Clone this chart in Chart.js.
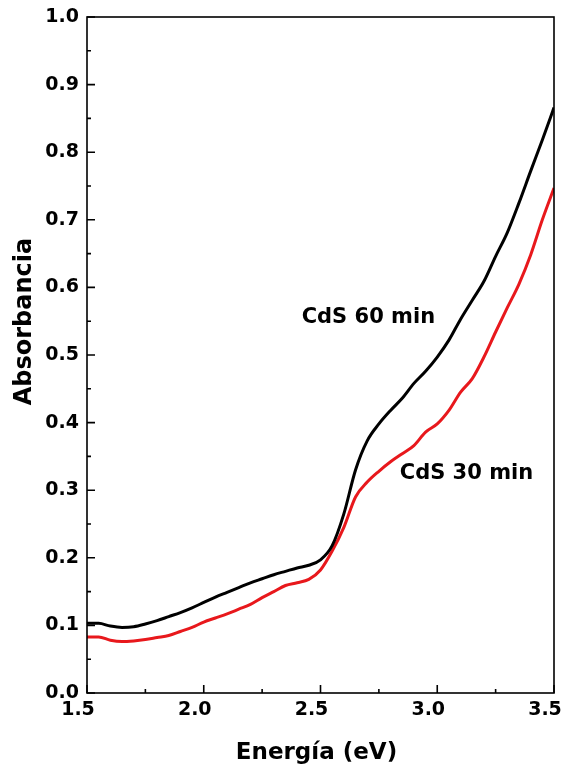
<!DOCTYPE html>
<html>
<head>
<meta charset="utf-8">
<script src="https://cdn.jsdelivr.net/npm/chart.js@4.4.1/dist/chart.umd.min.js"></script>
<style>
  html, body { margin: 0; padding: 0; background: #fff; }
</style>
</head>
<body>
<canvas id="chart" width="565" height="772"></canvas>
<script>
// energia (eV) y absorbancia
const energy = [1.50, 1.55, 1.60, 1.65, 1.70, 1.75, 1.80, 1.85, 1.90, 1.95,
                2.00, 2.05, 2.10, 2.15, 2.20, 2.25, 2.30, 2.35, 2.40, 2.45,
                2.50, 2.55, 2.60, 2.65, 2.70, 2.75, 2.80, 2.85, 2.90, 2.95,
                3.00, 3.05, 3.10, 3.15, 3.20, 3.25, 3.30, 3.35, 3.40, 3.45, 3.50];
const abs60 = [0.103, 0.103, 0.099, 0.097, 0.098, 0.102, 0.107, 0.113, 0.119, 0.126,
               0.134, 0.142, 0.149, 0.156, 0.163, 0.169, 0.175, 0.180, 0.185, 0.189,
               0.197, 0.218, 0.265, 0.330, 0.373, 0.398, 0.418, 0.436, 0.458, 0.476,
               0.497, 0.522, 0.553, 0.581, 0.609, 0.646, 0.681, 0.725, 0.772, 0.818, 0.866];
const abs30 = [0.083, 0.083, 0.078, 0.076, 0.077, 0.079, 0.082, 0.085, 0.091, 0.097,
               0.105, 0.111, 0.117, 0.124, 0.131, 0.141, 0.150, 0.159, 0.163, 0.168,
               0.182, 0.210, 0.245, 0.290, 0.312, 0.328, 0.342, 0.354, 0.366, 0.386,
               0.398, 0.418, 0.445, 0.465, 0.497, 0.534, 0.570, 0.605, 0.648, 0.700, 0.747];

const xTicks = [1.5, 2.0, 2.5, 3.0, 3.5];
const yTicks = [0.0, 0.1, 0.2, 0.3, 0.4, 0.5, 0.6, 0.7, 0.8, 0.9, 1.0];

const curveNames = ['CdS 60 min', 'CdS 30 min'];
const curveNameX = [2.705, 3.125];
const curveNameY = [0.555, 0.324];

Chart.defaults.font.family = "'DejaVu Sans', sans-serif";
Chart.defaults.font.weight = 'bold';
Chart.defaults.color = '#000';

// marco, marcas hacia adentro y etiquetas de las curvas
const framePlugin = {
  id: 'frame',
  afterDraw(chart) {
    const ctx = chart.ctx;
    const a = chart.chartArea;
    const xs = chart.scales.x, ys = chart.scales.y;
    ctx.save();
    ctx.strokeStyle = '#000';
    ctx.lineWidth = 1.6;
    ctx.strokeRect(a.left, a.top, a.right - a.left, a.bottom - a.top);

    ctx.beginPath();
    for (let i = 0; i < xTicks.length; i++) {
      const px = xs.getPixelForValue(xTicks[i]);
      ctx.moveTo(px, a.bottom); ctx.lineTo(px, a.bottom - 8);
      if (i < xTicks.length - 1) {
        const mx = xs.getPixelForValue((xTicks[i] + xTicks[i + 1]) / 2);
        ctx.moveTo(mx, a.bottom); ctx.lineTo(mx, a.bottom - 4);
      }
    }
    for (let i = 0; i < yTicks.length; i++) {
      const py = ys.getPixelForValue(yTicks[i]);
      ctx.moveTo(a.left, py); ctx.lineTo(a.left + 8, py);
      if (i < yTicks.length - 1) {
        const my = ys.getPixelForValue((yTicks[i] + yTicks[i + 1]) / 2);
        ctx.moveTo(a.left, my); ctx.lineTo(a.left + 4, my);
      }
    }
    ctx.stroke();

    ctx.fillStyle = '#000';
    ctx.font = "bold 21px 'DejaVu Sans', sans-serif";
    ctx.textAlign = 'center';
    ctx.textBaseline = 'middle';
    for (let i = 0; i < curveNames.length; i++) {
      ctx.fillText(curveNames[i], xs.getPixelForValue(curveNameX[i]), ys.getPixelForValue(curveNameY[i]));
    }
    ctx.restore();
  }
};

new Chart(document.getElementById('chart'), {
  type: 'line',
  data: {
    datasets: [
      {
        label: 'CdS 60 min',
        data: energy.map((e, i) => ({ x: e, y: abs60[i] })),
        borderColor: '#000',
        borderWidth: 3,
        pointRadius: 0,
        cubicInterpolationMode: 'monotone',
        fill: false
      },
      {
        label: 'CdS 30 min',
        data: energy.map((e, i) => ({ x: e, y: abs30[i] })),
        borderColor: '#e8181c',
        borderWidth: 3,
        pointRadius: 0,
        cubicInterpolationMode: 'monotone',
        fill: false
      }
    ]
  },
  options: {
    responsive: false,
    animation: false,
    devicePixelRatio: 1,
    layout: { padding: { top: 17, right: 11, left: 0, bottom: 0 } },
    plugins: { legend: { display: false }, tooltip: { enabled: false } },
    scales: {
      x: {
        type: 'linear',
        min: 1.5, max: 3.5,
        grid: { display: false, drawTicks: false },
        border: { display: false },
        afterBuildTicks: s => { s.ticks = xTicks.map(v => ({ value: v })); },
        afterFit: s => { s.height = 79; s.paddingLeft = 0; s.paddingRight = 0; },
        ticks: {
          padding: 6,
          labelOffset: -9,
          maxRotation: 0,
          font: { size: 19, weight: 'bold' },
          callback: v => Number(v).toFixed(1)
        },
        title: {
          display: true,
          text: 'Energía (eV) ',
          font: { size: 23, weight: 'bold' },
          padding: { top: 0, bottom: 5 }
        }
      },
      y: {
        min: 0, max: 1,
        grid: { display: false, drawTicks: false },
        border: { display: false },
        afterBuildTicks: s => { s.ticks = yTicks.map(v => ({ value: v })); },
        afterFit: s => { s.width = 87; s.paddingTop = 0; s.paddingBottom = 0; },
        ticks: {
          padding: 8,
          font: { size: 19, weight: 'bold' },
          callback: v => Number(v).toFixed(1)
        },
        title: {
          display: true,
          text: '        Absorbancia',
          font: { size: 24, weight: 'bold' },
          padding: { top: 10, bottom: 0 }
        }
      }
    }
  },
  plugins: [framePlugin]
});
</script>
</body>
</html>
